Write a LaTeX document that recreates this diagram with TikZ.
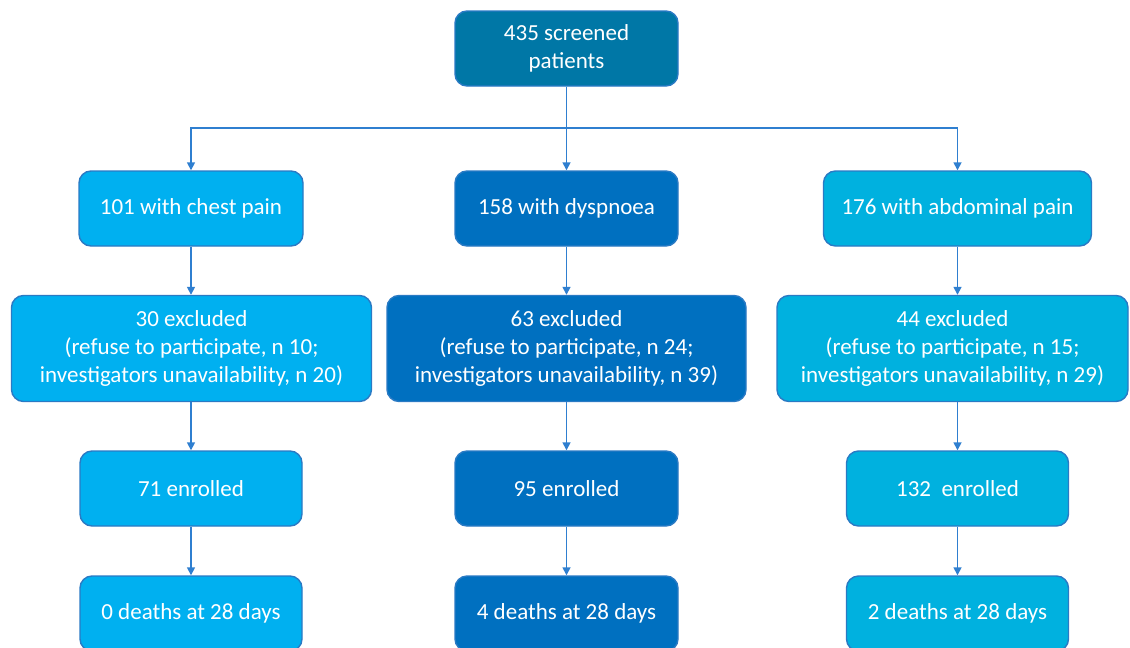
\documentclass[tikz,border=0pt]{standalone}
\usepackage{fontspec}
\setmainfont{Carlito}
\usetikzlibrary{arrows.meta}

\definecolor{topblue}{HTML}{0077A6}
\definecolor{leftblue}{HTML}{00B0F0}
\definecolor{midblue}{HTML}{0070C0}
\definecolor{rightblue}{HTML}{00B1DF}
\definecolor{edgeblue}{HTML}{2A7AC4}
\definecolor{lineblue}{HTML}{2F7FD0}

\tikzset{
  box/.style={draw=edgeblue, line width=0.7pt, rounded corners=6pt, text=white,
    align=center, inner sep=0pt, minimum height=37.5pt,
    font=\fontsize{11.5}{14}\selectfont},
  wide/.style={box, minimum height=53pt},
  link/.style={draw=lineblue, line width=0.8pt},
  arr/.style={link, -{Triangle[length=4pt,width=4pt]}}
}

\begin{document}
\begin{tikzpicture}[x=0.5pt,y=-0.5pt]
  \useasboundingbox (0,0) rectangle (1130,648);
  \node (screened) [box, fill=topblue, minimum width=111.5pt] at (566.5,48.5) {435 screened\\patients};
  \node (chest) [box, fill=leftblue, minimum width=112pt] at (191,208.5) {101 with chest pain};
  \node (dysp) [box, fill=midblue, minimum width=111.5pt] at (566.5,208.5) {158 with dyspnoea};
  \node (abdo) [box, fill=rightblue, minimum width=134pt] at (957.5,208.5) {176 with abdominal pain};
  \node (exclChest) [wide, fill=leftblue, minimum width=180pt] at (191.5,348.5) {30 excluded\\(refuse to participate, n 10;\\investigators unavailability, n 20)};
  \node (exclDysp) [wide, fill=midblue, minimum width=179.5pt] at (566.5,348.5) {63 excluded\\(refuse to participate, n 24;\\investigators unavailability, n 39)};
  \node (exclAbdo) [wide, fill=rightblue, minimum width=175.5pt] at (952.5,348.5) {44 excluded\\(refuse to participate, n 15;\\investigators unavailability, n 29)};
  \node (enrChest) [box, fill=leftblue, minimum width=111pt] at (191,488.5) {71 enrolled};
  \node (enrDysp) [box, fill=midblue, minimum width=111.5pt] at (566.5,488.5) {95 enrolled};
  \node (enrAbdo) [box, fill=rightblue, minimum width=111pt] at (957.5,488.5) {132~ enrolled};
  \node (deadChest) [box, fill=leftblue, minimum width=111pt] at (191,613.5) {0 deaths at 28 days};
  \node (deadDysp) [box, fill=midblue, minimum width=111.5pt] at (566.5,613.5) {4 deaths at 28 days};
  \node (deadAbdo) [box, fill=rightblue, minimum width=111pt] at (957.5,613.5) {2 deaths at 28 days};
  \coordinate (split) at (screened.south |- 0,128);
  \draw [arr] (screened) -- (dysp);
  \draw [arr] (split) -| (chest);
  \draw [arr] (split) -| (abdo);
  % keep each column on one vertical line
  \foreach \a/\b in {chest/exclChest, dysp/exclDysp, abdo/exclAbdo,
      enrChest/deadChest, enrDysp/deadDysp, enrAbdo/deadAbdo}
    \draw [arr] (\a.south) -- (\a.south |- \b.north);
  \foreach \a/\b in {exclChest/enrChest, exclDysp/enrDysp, exclAbdo/enrAbdo}
    \draw [arr] (\b.north |- \a.south) -- (\b.north);
\end{tikzpicture}
\end{document}
